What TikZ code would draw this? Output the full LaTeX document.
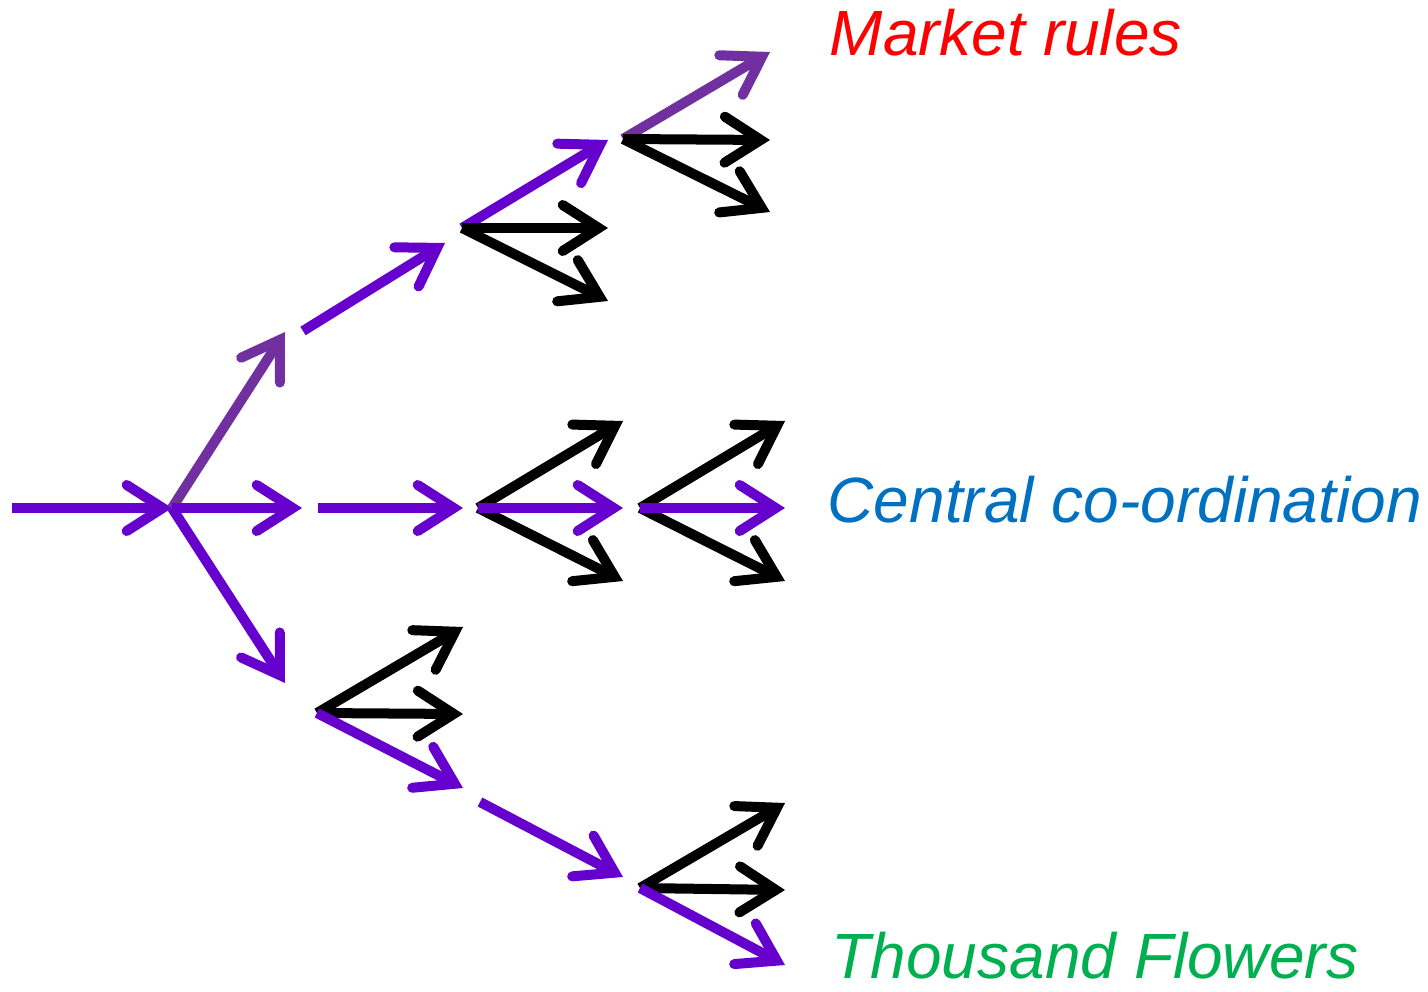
\documentclass[tikz,border=0pt]{standalone}
\usepackage{fontspec}
\setmainfont{Liberation Sans}
\usepackage{xcolor}
\usetikzlibrary{arrows.meta,positioning}
\definecolor{vio}{HTML}{6600CC}
\definecolor{plum}{HTML}{7030A0}
\definecolor{mktred}{HTML}{FF0000}
\definecolor{cenblue}{HTML}{0070C0}
\definecolor{flogreen}{HTML}{00B050}

\begin{document}
\begin{tikzpicture}[x=0.01cm,y=-0.01cm,
  arr/.style={line width=1mm,
    -{Straight Barb[length=3.6mm,width=4.6mm,line cap=round,line join=miter]}},
  lab/.style={anchor=base west,inner sep=0pt,text depth=0pt,
    font=\fontsize{18.2}{22}\selectfont\itshape}]
  \useasboundingbox (0,0) rectangle (1428,991);
  % fork on the left
  \coordinate (start) at (12,508);
  \coordinate (fork) at (172,508);
  \coordinate (upt) at (285,332);
  \coordinate (midt) at (302,508);
  \coordinate (dnt) at (285,683);
  \draw[arr,vio] (start) -- (fork);
  \draw[arr,plum] (fork) -- (upt);
  \draw[arr,vio] (fork) -- (midt);
  \draw[arr,vio] (fork) -- (dnt);
  % upper branch
  \coordinate (ua) at (303,331);
  \coordinate (ga) at (462,228);
  \coordinate (gb) at (623,139);
  \draw[arr,vio] (ua) -- (445,243) coordinate (uat);
  \draw[arr,vio] (ga) -- (608,140) coordinate (ga1);
  \draw[arr] (ga) -- (608,228) coordinate (ga2);
  \draw[arr] (ga) -- (608,301) coordinate (ga3);
  \draw[arr,plum] (gb) -- (770,52) coordinate (gb1);
  \draw[arr] (gb) -- (770,140) coordinate (gb2);
  \draw[arr] (gb) -- (770,212) coordinate (gb3);
  % middle branch
  \coordinate (ma) at (318,508);
  \coordinate (gc) at (478,508);
  \coordinate (gd) at (640,508);
  \draw[arr,vio] (ma) -- (463,508) coordinate (mat);
  \draw[arr] (gc) -- (623,421) coordinate (gc1);
  \draw[arr] (gc) -- (623,581) coordinate (gc3);
  \draw[arr,vio] (gc) -- (623,508) coordinate (gc2);
  \draw[arr] (gd) -- (785,421) coordinate (gd1);
  \draw[arr] (gd) -- (785,581) coordinate (gd3);
  \draw[arr,vio] (gd) -- (785,508) coordinate (gd2);
  % lower branch
  \coordinate (ge) at (317,713);
  \coordinate (la) at (480,802);
  \coordinate (gf) at (640,888);
  \draw[arr] (ge) -- (463,627) coordinate (ge1);
  \draw[arr] (ge) -- (463,714) coordinate (ge2);
  \draw[arr,vio] (ge) -- (463,788) coordinate (ge3);
  \draw[arr,vio] (la) -- (623,877) coordinate (lat);
  \draw[arr] (gf) -- (785,803) coordinate (gf1);
  \draw[arr] (gf) -- (785,890) coordinate (gf2);
  \draw[arr,vio] (gf) -- (785,965) coordinate (gf3);
  % labels
  \node[lab,text=mktred] (market) at (829,56) {Market rules};
  \node[lab,text=cenblue] (central) at (827,522) {Central co-ordination};
  \node[lab,text=flogreen] (flowers) at (831,978) {Thousand Flowers};
\end{tikzpicture}
\end{document}
